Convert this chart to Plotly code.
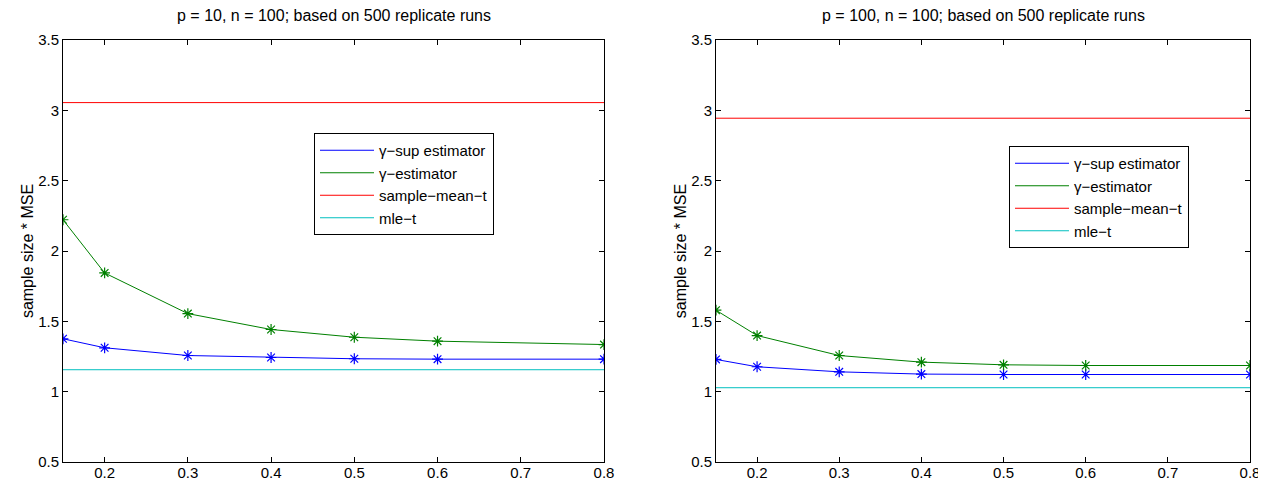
import plotly.graph_objects as go
from plotly.subplots import make_subplots

# --- DATA ---
alphas = [0.15, 0.2, 0.3, 0.4, 0.5, 0.6, 0.8]

# p = 10 panel
p10_gamma_sup = [1.376, 1.312, 1.257, 1.243, 1.234, 1.231, 1.231]
p10_gamma = [2.222, 1.844, 1.555, 1.442, 1.387, 1.359, 1.335]
p10_sample_mean = 3.055
p10_mle = 1.156

# p = 100 panel
p100_gamma_sup = [1.229, 1.177, 1.141, 1.125, 1.122, 1.122, 1.122]
p100_gamma = [1.579, 1.399, 1.257, 1.210, 1.191, 1.186, 1.186]
p100_sample_mean = 2.944
p100_mle = 1.028

titles = ["p = 10, n = 100; based on 500 replicate runs",
          "p = 100, n = 100; based on 500 replicate runs"]
names = ["γ−sup estimator", "γ−estimator", "sample−mean−t", "mle−t"]
x_ticks = [0.2, 0.3, 0.4, 0.5, 0.6, 0.7, 0.8]
y_ticks = [0.5, 1, 1.5, 2, 2.5, 3, 3.5]

# --- STYLE ---
COLORS = ["#0000ff", "#008000", "#ff0000", "#00bfbf"]
FONT = "Liberation Sans, Arial, Helvetica, sans-serif"
# page body has an 8px margin, so the figure is drawn 8px in from the corner
W, H = 1258, 474
L, R, T, B = 55, 16, 32, 20
PW, PH = W - L - R, H - T - B

def px_x(x):
    # page pixel -> paper x (relative to plot area)
    return (x - 8 - L) / PW

def px_y(y):
    return 1 - (y - 8 - T) / PH

fig = make_subplots(rows=1, cols=2)

panels = [
    (p10_gamma_sup, p10_gamma, p10_sample_mean, p10_mle, "legend"),
    (p100_gamma_sup, p100_gamma, p100_sample_mean, p100_mle, "legend2"),
]

for col, (sup, gam, smean, mle, leg) in enumerate(panels, start=1):
    series = [sup, gam, [smean] * len(alphas), [mle] * len(alphas)]
    for i, ys in enumerate(series):
        has_markers = i < 2
        fig.add_trace(go.Scatter(
            x=alphas, y=ys,
            mode="lines+markers" if has_markers else "lines",
            line=dict(color=COLORS[i], width=1),
            marker=dict(symbol="asterisk-open", size=9,
                        line=dict(color=COLORS[i], width=1.2)),
            showlegend=False,
        ), row=1, col=col)
    # legend entries, line only
    for i, name in enumerate(names):
        fig.add_trace(go.Scatter(
            x=[None], y=[None], mode="lines", name=name,
            line=dict(color=COLORS[i], width=1),
            legend=leg, showlegend=True,
        ), row=1, col=col)

axis_common = dict(
    showline=True, linecolor="black", linewidth=1, mirror="ticks",
    ticks="inside", ticklen=5, tickcolor="black", showgrid=False,
    zeroline=False, automargin=False,
    tickfont=dict(size=15, color="black", family=FONT),
)

fig.update_xaxes(range=[0.15, 0.8], tickvals=x_ticks,
                 ticktext=[str(v) for v in x_ticks],
                 ticklabelstandoff=-3, **axis_common)
fig.update_yaxes(range=[0.5, 3.5], tickvals=y_ticks,
                 ticktext=[f"{v:g}" for v in y_ticks],
                 title=dict(text="sample size * MSE",
                            font=dict(size=16, color="black", family=FONT),
                            standoff=0),
                 **axis_common)

legend_common = dict(
    xanchor="left", yanchor="top",
    bordercolor="black", borderwidth=1, bgcolor="white",
    font=dict(size=15, family=FONT), itemwidth=54, tracegroupgap=0,
)

fig.update_layout(
    width=W, height=H,
    paper_bgcolor="white", plot_bgcolor="white",
    margin=dict(l=L, r=R, t=T, b=B, autoexpand=False),
    font=dict(family=FONT, size=13, color="black"),
    xaxis=dict(domain=[0, px_x(604)]),
    xaxis2=dict(domain=[px_x(716), 1]),
    yaxis=dict(domain=[0, 1]),
    yaxis2=dict(domain=[0, 1]),
    legend=dict(x=px_x(314), y=px_y(133), **legend_common),
    legend2=dict(x=px_x(1009), y=px_y(146), **legend_common),
    annotations=[
        dict(text=titles[0], x=(px_x(63) + px_x(604)) / 2, y=1, yshift=25,
             xanchor="center", yanchor="middle",
             xref="paper", yref="paper", showarrow=False,
             font=dict(size=16, family=FONT, color="black")),
        dict(text=titles[1], x=(px_x(716) + px_x(1250)) / 2, y=1, yshift=25,
             xanchor="center", yanchor="middle",
             xref="paper", yref="paper", showarrow=False,
             font=dict(size=16, family=FONT, color="black")),
    ],
)

fig.write_html("out.html")
